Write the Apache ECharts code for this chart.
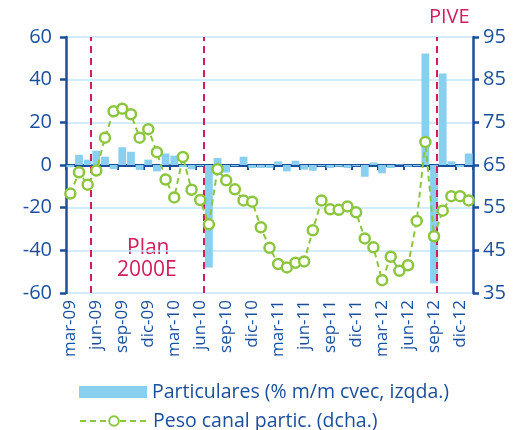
<!DOCTYPE html>
<html>
<head>
<meta charset="UTF-8">
<script src="https://cdn.jsdelivr.net/npm/echarts@6/dist/echarts.min.js"></script>
<style>
html, body { margin: 0; padding: 0; background: #fff; }
#main { width: 523px; height: 430px; }
</style>
</head>
<body>
<div id="main"></div>
<script type="text/javascript">
// meses (mar-09 .. ene-13)
var meses = ['mar-09','abr-09','may-09','jun-09','jul-09','ago-09','sep-09','oct-09','nov-09','dic-09',
    'ene-10','feb-10','mar-10','abr-10','may-10','jun-10','jul-10','ago-10','sep-10','oct-10','nov-10','dic-10',
    'ene-11','feb-11','mar-11','abr-11','may-11','jun-11','jul-11','ago-11','sep-11','oct-11','nov-11','dic-11',
    'ene-12','feb-12','mar-12','abr-12','may-12','jun-12','jul-12','ago-12','sep-12','oct-12','nov-12','dic-12',
    'ene-13'];

// Particulares (% m/m cvec, izqda.)
var particulares = [-1, 4.8, 2.5, 6.7, 3.9, -1.9, 8.3, 6.2, -2.3, 2.5,
    -3.0, 5.4, 4.4, -1, -2, -0.5, -48, 3.3, -3.5, -0.5, 3.9, -1.4,
    -1.4, -1.4, 1.7, -3.0, 2.0, -2.2, -2.7, -0.5, -1.4, -0.8, -1.4, -0.5,
    -5.5, 1.2, -3.9, -1.4, 0.3, -0.8, -0.5, 52.3, -55.5, 42.9, 1.7, -1,
    5.4];

// Peso canal partic. (dcha.)
var pesoCanal = [58.3, 63.3, 60.4, 63.7, 71.4, 77.6, 78.2, 76.9, 71.4, 73.4,
    68.0, 61.6, 57.4, 66.9, 59.2, 56.8, 51.1, 64.0, 61.4, 59.3, 56.7, 56.4,
    50.4, 45.6, 41.8, 41.0, 42.1, 42.4, 49.7, 56.7, 54.6, 54.5, 55.3, 53.9,
    47.8, 45.7, 38.0, 43.5, 40.2, 41.5, 51.9, 70.4, 48.3, 54.3, 57.7, 57.7,
    56.7];

// lineas verticales (posicion en meses desde el inicio)
var eventos = [2.85, 15.85, 42.87];

var azul = '#1B4F9C';
var rojo = '#D41C5C';
var verde = '#8CC63F';
var fuente = 'Open Sans';
var nomBarras = 'Particulares (% m/m cvec, izqda.)';
var nomLinea = 'Peso canal partic. (dcha.)';

var myChart = echarts.init(document.getElementById('main'));

var option = {
    animation: false,
    textStyle: { fontFamily: fuente },
    grid: { left: 66, right: 50, top: 37, bottom: 137, containLabel: false },
    legend: [
        {
            left: 74,
            top: 377,
            itemWidth: 68,
            itemHeight: 12,
            itemGap: 8,
            textStyle: { fontSize: 19.5, color: azul, fontFamily: fuente },
            data: [{ name: nomBarras, icon: 'rect' }]
        },
        {
            left: 74,
            top: 406,
            itemWidth: 68,
            itemHeight: 12,
            itemGap: 8,
            textStyle: { fontSize: 19.5, color: azul, fontFamily: fuente },
            data: [{ name: nomLinea }]
        }
    ],
    xAxis: [
        {
            type: 'category',
            data: meses,
            position: 'bottom',
            axisLine: { show: false, onZero: false },
            axisTick: { show: false },
            axisLabel: {
                interval: 2,
                rotate: 90,
                margin: 7,
                fontSize: 17,
                color: azul,
                fontFamily: fuente
            }
        },
        {
            type: 'category',
            data: meses,
            position: 'bottom',
            axisLine: { show: true, onZero: true, onZeroAxisIndex: 0, lineStyle: { color: azul, width: 3 } },
            axisTick: { show: true, interval: 2, length: 5, lineStyle: { color: azul, width: 2 } },
            axisLabel: { show: false }
        },
        {
            type: 'value',
            min: 0,
            max: meses.length,
            show: false
        }
    ],
    yAxis: [
        {
            type: 'value',
            min: -60,
            max: 60,
            interval: 20,
            axisLine: { show: true, onZero: false, lineStyle: { color: azul, width: 2.5 } },
            axisTick: { show: true, length: 6, lineStyle: { color: azul, width: 2.5 } },
            axisLabel: { fontSize: 20, color: azul, margin: 14, fontFamily: fuente },
            splitLine: { show: true, lineStyle: { color: '#C4E6F7', width: 1.5 } }
        },
        {
            type: 'value',
            min: 35,
            max: 95,
            interval: 10,
            position: 'right',
            axisLine: { show: true, onZero: false, lineStyle: { color: azul, width: 2.5 } },
            axisTick: { show: true, length: 6, lineStyle: { color: azul, width: 2.5 } },
            axisLabel: { fontSize: 20, color: azul, margin: 10, fontFamily: fuente },
            splitLine: { show: false }
        }
    ],
    series: [
        {
            name: nomBarras,
            type: 'bar',
            xAxisIndex: 0,
            yAxisIndex: 0,
            barCategoryGap: '10%',
            itemStyle: { color: '#89CFF0' },
            data: particulares
        },
        {
            name: nomLinea,
            type: 'line',
            xAxisIndex: 0,
            yAxisIndex: 1,
            symbol: 'circle',
            symbolSize: 10,
            showAllSymbol: true,
            lineStyle: { color: verde, width: 2, type: [6, 4] },
            itemStyle: { color: '#fff', borderColor: verde, borderWidth: 2.5 },
            data: pesoCanal,
            z: 5
        },
        {
            name: 'eventos',
            type: 'line',
            xAxisIndex: 2,
            yAxisIndex: 0,
            data: [],
            markLine: {
                silent: true,
                symbol: 'none',
                label: { show: false },
                lineStyle: { color: rojo, width: 2, type: [7, 5] },
                data: eventos.map(function (v) { return { xAxis: v }; })
            },
            z: 4
        }
    ],
    graphic: [
        { type: 'text', left: 429, top: 7, style: { text: 'PIVE', fontSize: 20, fill: rojo, fontFamily: fuente } },
        { type: 'text', left: 127, top: 238, style: { text: 'Plan', fontSize: 21, fill: rojo, fontFamily: fuente } },
        { type: 'text', left: 117, top: 260, style: { text: '2000E', fontSize: 21, fill: rojo, fontFamily: fuente } }
    ]
};

myChart.setOption(option);
</script>
</body>
</html>
